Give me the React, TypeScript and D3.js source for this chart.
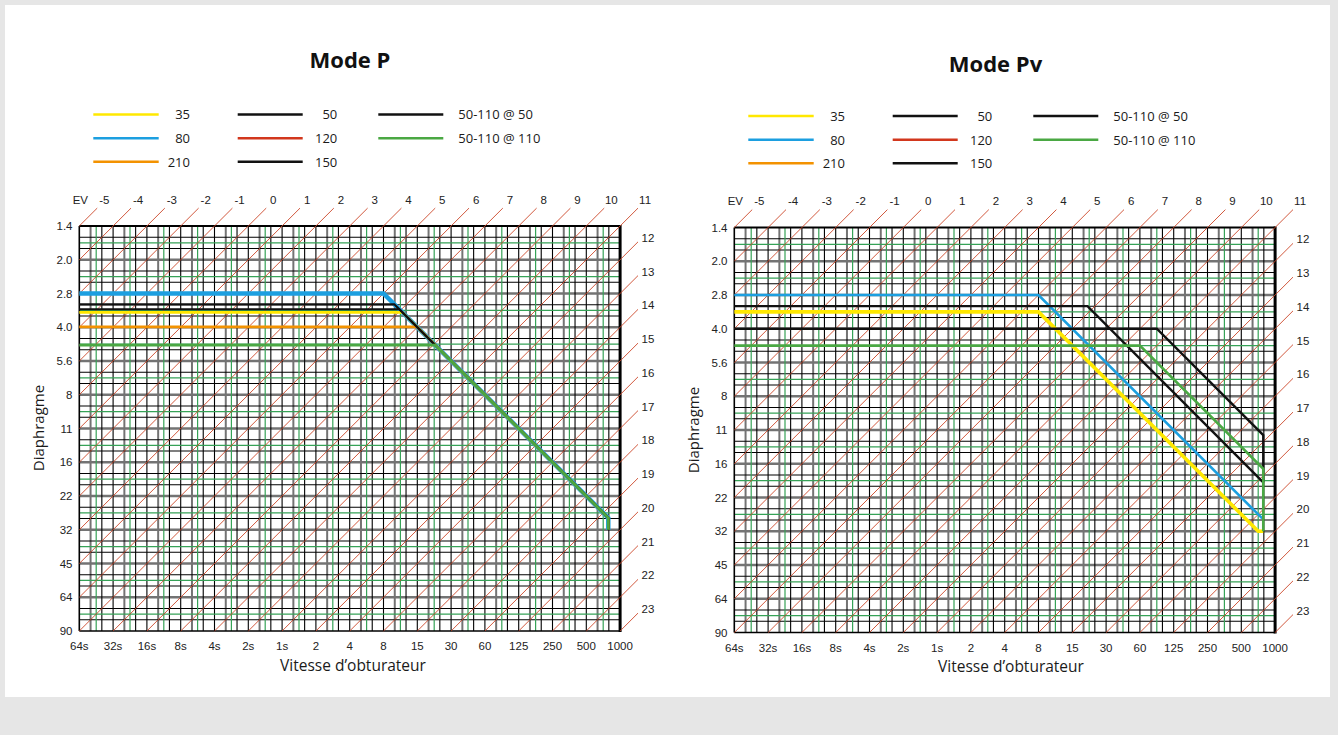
import React from "react";
import * as d3 from "d3";

// ---------- DATA ----------
// shutter stop index: 0 = 64s … 16 = 1/1000 ; aperture stop index: 0 = f/1.4 … 12 = f/90
const shutterLabels = ["64s", "32s", "16s", "8s", "4s", "2s", "1s", "2", "4", "8", "15", "30", "60", "125", "250", "500", "1000"];
const apertureLabels = ["1.4", "2.0", "2.8", "4.0", "5.6", "8", "11", "16", "22", "32", "45", "64", "90"];
const evTopLabels = ["-5", "-4", "-3", "-2", "-1", "0", "1", "2", "3", "4", "5", "6", "7", "8", "9", "10", "11"];
const evRightLabels = ["12", "13", "14", "15", "16", "17", "18", "19", "20", "21", "22", "23"];

const legendLabels = ["35", "80", "210", "50", "120", "150", "50-110 @ 50", "50-110 @ 110"];

// Mode P program lines [shutterStop, apertureStop]
const modeP_80 = [[0, 2], [9, 2], [15.65, 8.65], [15.65, 9]];
const modeP_35 = [[0, 2.56], [9.56, 2.56], [15.65, 8.65], [15.65, 9]];
const modeP_210 = [[0, 2.99], [9.99, 2.99], [15.65, 8.65], [15.65, 9]];
const modeP_50 = [[0, 2.32], [9.32, 2.32], [15.65, 8.65], [15.65, 9]];
const modeP_150 = [[0, 2.47], [9.47, 2.47], [15.65, 8.65], [15.65, 9]];
const modeP_110 = [[0, 3.53], [10.53, 3.53], [15.65, 8.65], [15.65, 9]];

// Mode Pv program lines
const modePv_35 = [[0, 2.5], [9, 2.5], [15.5, 9], [15.65, 9]];
const modePv_80 = [[0, 2], [9, 2], [15.62, 8.62]];
const modePv_50 = [[0, 2.33], [10.45, 2.33], [15.65, 7.55]];
const modePv_50_110_50 = [[0, 3], [12.5, 3], [15.65, 6.15], [15.65, 7.55]];
const modePv_50_110_110 = [[0, 3.5], [12, 3.5], [15.65, 7.15], [15.65, 9]];

// ---------- STYLE ----------
const COLORS: Record<string, string> = {
  "35": "#ffe800",
  "80": "#1c9fe0",
  "210": "#f39200",
  "50": "#111111",
  "120": "#d2371d",
  "150": "#111111",
  "50-110 @ 50": "#111111",
  "50-110 @ 110": "#4aa843",
};

const SANS = "'Open Sans', 'Noto Sans', sans-serif";
const TICK = "'Liberation Sans', Arial, sans-serif";

type Series = { name: string; points: number[][]; width: number };

const charts = [
  {
    title: "Mode P",
    titleX: 350,
    titleY: 68,
    x0: 79.3,
    x1: 620.1,
    y0: 226,
    y1: 631,
    legendDx: 0,
    legendDy: 0,
    xTitleX: 353,
    xTitleY: 671,
    yTitleX: 44,
    yTitleY: 428,
    series: [
      { name: "80", points: modeP_80, width: 4.5 },
      { name: "35", points: modeP_35, width: 2.6 },
      { name: "210", points: modeP_210, width: 2.6 },
      { name: "50", points: modeP_50, width: 2.2 },
      { name: "150", points: modeP_150, width: 2.0 },
      { name: "50-110 @ 110", points: modeP_110, width: 2.6 },
    ] as Series[],
  },
  {
    title: "Mode Pv",
    titleX: 995.5,
    titleY: 72,
    x0: 734.3,
    x1: 1275.1,
    y0: 227.5,
    y1: 632.5,
    legendDx: 655,
    legendDy: 1.5,
    xTitleX: 1011,
    xTitleY: 672,
    yTitleX: 699,
    yTitleY: 430,
    series: [
      { name: "35", points: modePv_35, width: 3.6 },
      { name: "80", points: modePv_80, width: 2.6 },
      { name: "50", points: modePv_50, width: 2.4 },
      { name: "50-110 @ 50", points: modePv_50_110_50, width: 2.4 },
      { name: "50-110 @ 110", points: modePv_50_110_110, width: 2.6 },
    ] as Series[],
  },
];

function Legend({ dx, dy }: { dx: number; dy: number }) {
  const rows = [114.5, 138.3, 161.7];
  const cols = [
    { lx0: 93.3, lx1: 158.7, tx: 190, anchor: "end" },
    { lx0: 237.7, lx1: 302.7, tx: 337.3, anchor: "end" },
    { lx0: 378.3, lx1: 443.3, tx: 458.3, anchor: "start" },
  ];
  return (
    <g transform={`translate(${dx},${dy})`}>
      {legendLabels.map((lab, i) => {
        const c = cols[Math.floor(i / 3)];
        const r = rows[i % 3];
        return (
          <g key={lab}>
            <line x1={c.lx0} x2={c.lx1} y1={r} y2={r} stroke={COLORS[lab]} strokeWidth={2.4} />
            <text x={c.tx} y={r + 4.8} textAnchor={c.anchor as any} fontFamily={SANS} fontSize={13} fill="#1a1a1a">
              {lab}
            </text>
          </g>
        );
      })}
    </g>
  );
}

function Chart({ cfg }: { cfg: (typeof charts)[number] }) {
  const x = d3.scaleLinear().domain([0, 16]).range([cfg.x0, cfg.x1]);
  const y = d3.scaleLinear().domain([0, 12]).range([cfg.y0, cfg.y1]);
  const sInt = d3.range(0, 17);
  const aInt = d3.range(0, 13);
  const sCells = d3.range(0, 16);
  const aCells = d3.range(0, 12);
  const line = d3
    .line<number[]>()
    .x((d) => x(d[0]))
    .y((d) => y(d[1]));

  const ext = 0.53;
  const diagonals = d3.range(0, 29).map((c) => {
    const sStart = Math.max(0, c - 12);
    const aStart = c - sStart;
    const aEnd = Math.max(0, c - 16);
    const sEnd = c - aEnd;
    return { c, inside: [[sStart, aStart], [sEnd, aEnd]], outside: [[sEnd, aEnd], [sEnd + ext, aEnd - ext]] };
  });

  const GRAY = "#737373";
  const GREEN = "#36a257";
  const RED = "#cc4628";

  return (
    <g>
      <text x={cfg.titleX} y={cfg.titleY} textAnchor="middle" fontFamily={SANS} fontWeight={700} fontSize={22} fill="#111">
        {cfg.title}
      </text>
      <Legend dx={cfg.legendDx} dy={cfg.legendDy} />

      {/* gray thick grid lines */}
      {aInt.slice(1, 12).map((a) => (
        <line key={"hg" + a} x1={x(0)} x2={x(16)} y1={y(a)} y2={y(a)} stroke={GRAY} strokeWidth={2.3} />
      ))}
      {sCells.map((s) => (
        <line key={"vg" + s} x1={x(s + 1 / 3)} x2={x(s + 1 / 3)} y1={y(0)} y2={y(12)} stroke={GRAY} strokeWidth={2} />
      ))}
      {/* black thin grid lines */}
      {aCells.map((a) => (
        <g key={"hb" + a}>
          <line x1={x(0)} x2={x(16)} y1={y(a + 1 / 3)} y2={y(a + 1 / 3)} stroke="#000" strokeWidth={1.1} />
          <line x1={x(0)} x2={x(16)} y1={y(a + 2 / 3)} y2={y(a + 2 / 3)} stroke="#000" strokeWidth={1.1} />
        </g>
      ))}
      {sInt.slice(1, 16).map((s) => (
        <line key={"vb" + s} x1={x(s)} x2={x(s)} y1={y(0)} y2={y(12)} stroke="#000" strokeWidth={1.1} />
      ))}
      {sCells.map((s) => (
        <line key={"vb2" + s} x1={x(s + 2 / 3)} x2={x(s + 2 / 3)} y1={y(0)} y2={y(12)} stroke="#000" strokeWidth={1.1} />
      ))}
      {/* green half-stop lines */}
      {aCells.map((a) => (
        <line key={"hgr" + a} x1={x(0)} x2={x(16)} y1={y(a + 0.5)} y2={y(a + 0.5)} stroke={GREEN} strokeWidth={1.2} />
      ))}
      {sCells.map((s) => (
        <line key={"vgr" + s} x1={x(s + 0.5)} x2={x(s + 0.5)} y1={y(0)} y2={y(12)} stroke={GREEN} strokeWidth={1.2} />
      ))}
      {/* frame */}
      <line x1={x(0)} x2={x(16)} y1={y(0)} y2={y(0)} stroke="#000" strokeWidth={2} />
      <line x1={x(0)} x2={x(16)} y1={y(12)} y2={y(12)} stroke="#000" strokeWidth={1.6} />
      <line x1={x(0)} x2={x(0)} y1={y(0)} y2={y(12)} stroke="#000" strokeWidth={1.6} />
      <line x1={x(16)} x2={x(16)} y1={y(0) - 1} y2={y(12) + 1} stroke="#000" strokeWidth={3} />

      {/* EV diagonals */}
      {diagonals.map((d) => (
        <g key={"d" + d.c}>
          {d.c > 0 && <path d={line(d.inside) || ""} stroke={RED} strokeWidth={0.9} fill="none" />}
          <path d={line(d.outside) || ""} stroke={RED} strokeWidth={0.9} fill="none" />
        </g>
      ))}

      {/* program lines */}
      {cfg.series.map((s) => (
        <path
          key={s.name}
          d={line(s.points) || ""}
          stroke={COLORS[s.name]}
          strokeWidth={s.width}
          fill="none"
          strokeLinejoin="miter"
        />
      ))}

      {/* labels */}
      <text x={x(0) + 1} y={y(0) - 22.5} textAnchor="middle" fontFamily={TICK} fontSize={11.5} fill="#222">
        EV
      </text>
      {evTopLabels.map((t, i) => (
        <text key={"evt" + t} x={x(i) + 25} y={y(0) - 22.5} textAnchor="middle" fontFamily={TICK} fontSize={11.5} fill="#222">
          {t}
        </text>
      ))}
      {evRightLabels.map((t, i) => (
        <text key={"evr" + t} x={x(16) + 21.5} y={y(i + 1) - 18} textAnchor="start" fontFamily={TICK} fontSize={11.5} fill="#222">
          {t}
        </text>
      ))}
      {apertureLabels.map((t, i) => (
        <text key={"ap" + t} x={x(0) - 6.8} y={y(i) + 4.2} textAnchor="end" fontFamily={TICK} fontSize={11.5} fill="#222">
          {t}
        </text>
      ))}
      {shutterLabels.map((t, i) => (
        <text key={"sh" + t} x={x(i)} y={y(12) + 19} textAnchor="middle" fontFamily={TICK} fontSize={11.5} fill="#222">
          {t}
        </text>
      ))}
      <text x={cfg.xTitleX} y={cfg.xTitleY} textAnchor="middle" fontFamily={SANS} fontSize={15.5} fill="#1a1a1a">
        Vitesse d’obturateur
      </text>
      <text
        transform={`translate(${cfg.yTitleX},${cfg.yTitleY}) rotate(-90)`}
        textAnchor="middle"
        fontFamily={SANS}
        fontSize={15}
        fill="#1a1a1a"
      >
        Diaphragme
      </text>
    </g>
  );
}

export default function App() {
  return (
    <svg
      width={1338}
      height={735}
      style={{ position: "fixed", left: 0, top: 0 }}
      xmlns="http://www.w3.org/2000/svg"
    >
      <rect x={0} y={0} width={1338} height={735} fill="#e6e6e6" />
      <rect x={5} y={5} width={1325} height={692} fill="#ffffff" />
      {charts.map((c) => (
        <Chart key={c.title} cfg={c} />
      ))}
    </svg>
  );
}
